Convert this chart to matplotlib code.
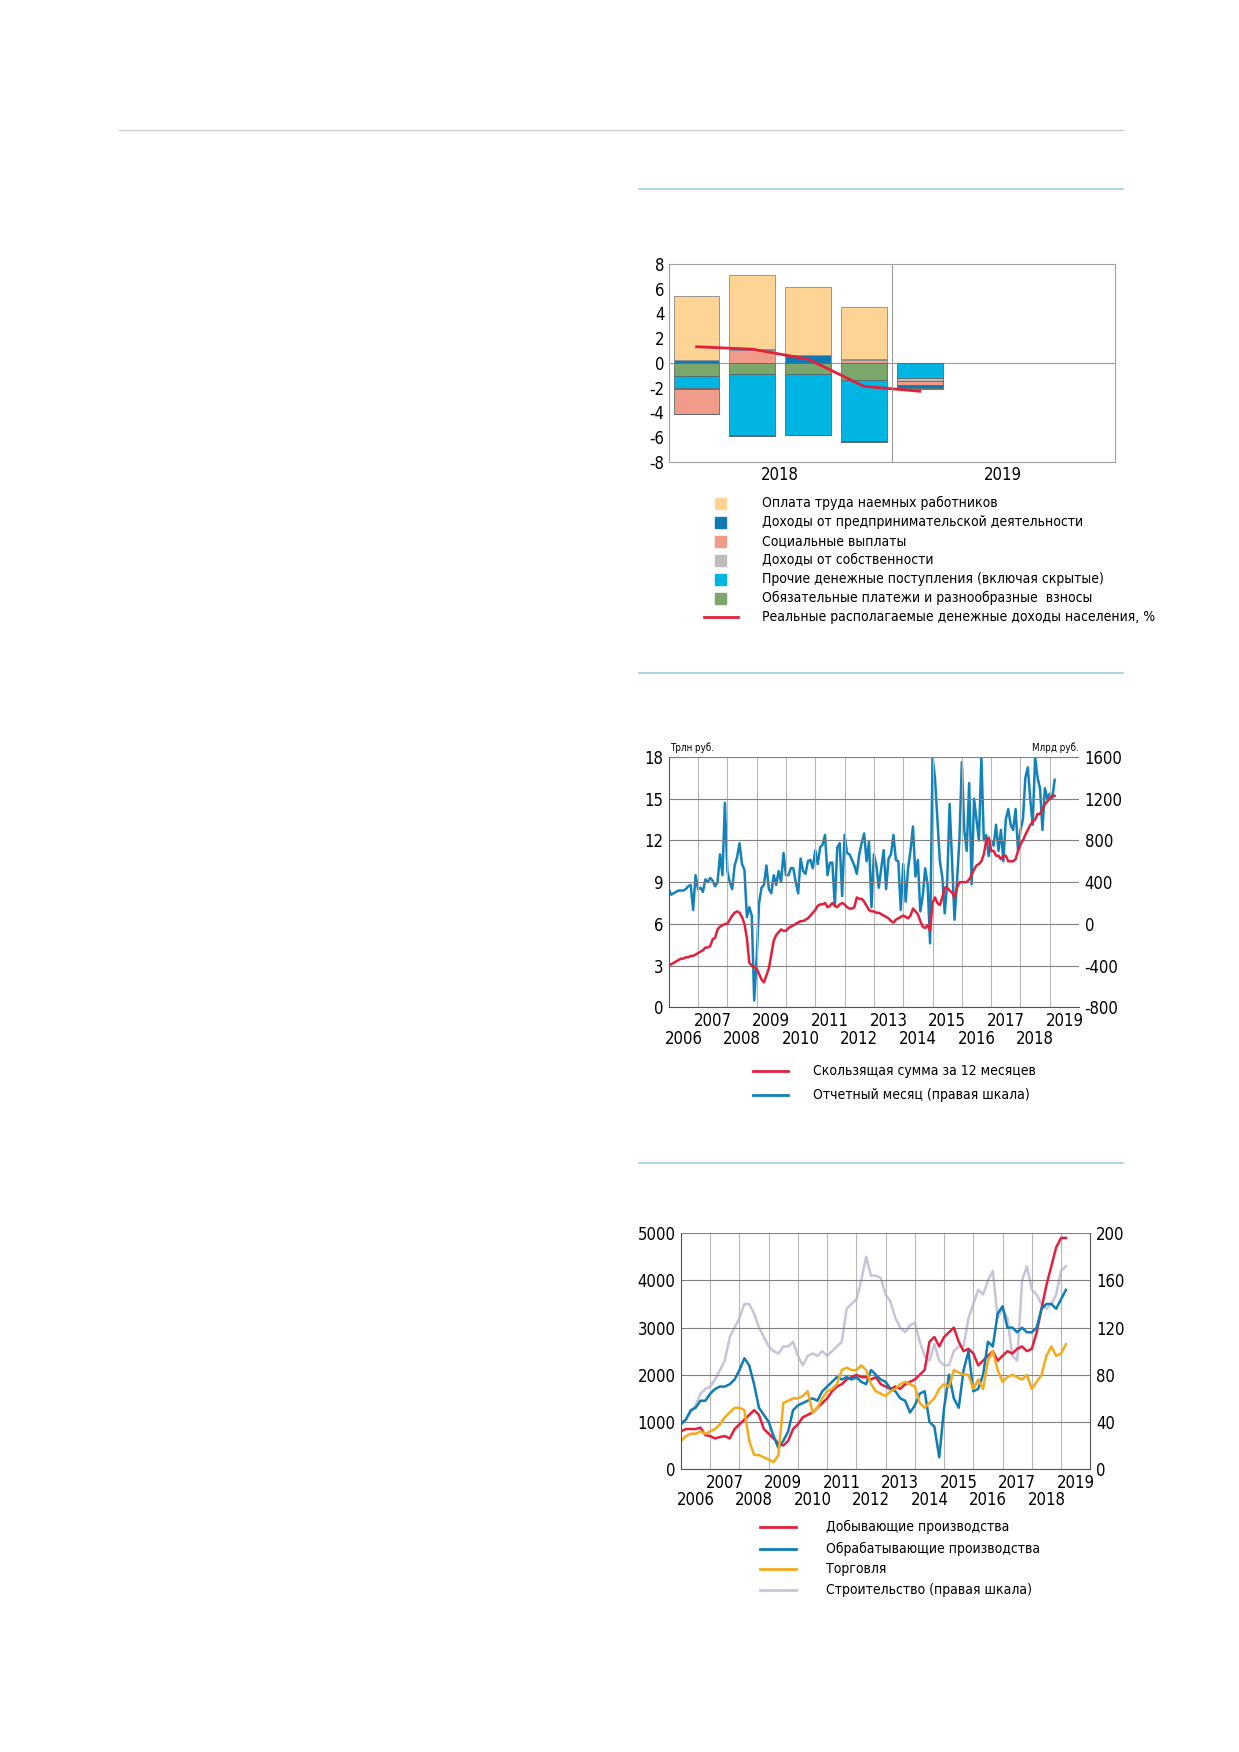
import numpy as np
import matplotlib.pyplot as plt
from matplotlib.lines import Line2D

plt.rcParams['font.family'] = ['DejaVu Sans']
plt.rcParams['font.stretch'] = 'condensed'
plt.rcParams['axes.unicode_minus'] = False

# ---------- data: chart 1 (quarterly contributions) ----------
quarters = [0, 1, 2, 3, 4]
income_line = [1.3, 1.1, 0.3, -1.9, -2.3]
comp_names = ['Оплата труда наемных работников',
              'Доходы от предпринимательской деятельности',
              'Социальные выплаты',
              'Доходы от собственности',
              'Прочие денежные поступления (включая скрытые)',
              'Обязательные платежи и разнообразные  взносы']
comp_colors = ['#FDD493', '#0F79B4', '#F19C8A', '#BDBDBD', '#00B5E2', '#7BA86A']
wages = [5.2, 6.0, 5.45, 4.2, -0.1]
business = [0.2, 0.1, 0.65, -0.1, -0.2]
social = [-2.0, 1.0, 0.0, 0.2, -0.3]
property_inc = [-0.1, -0.1, 0.0, 0.1, -0.3]
other = [-0.9, -4.9, -4.9, -4.9, -1.2]
mandatory = [-1.1, -0.9, -0.9, -1.4, 0.0]

# ---------- data: chart 2 (monthly, from Jan 2006) ----------
rolling_sum = [
    3.0, 3.1, 3.2, 3.3, 3.4, 3.5, 3.5, 3.6, 3.6, 3.7, 3.7, 3.8,
    3.9, 4.0, 4.1, 4.3, 4.3, 4.4, 4.9, 5.0, 5.6, 5.8, 5.9, 6.0,
    6.0, 6.3, 6.6, 6.8, 6.9, 6.8, 6.5, 6.0, 5.0, 3.2, 3.0, 2.9,
    2.8, 2.4, 2.0, 1.8, 2.3, 2.8, 3.8, 4.8, 5.2, 5.4, 5.6, 5.5,
    5.5, 5.7, 5.8, 5.9, 6.0, 6.1, 6.2, 6.2, 6.3, 6.4, 6.6, 6.8,
    7.0, 7.3, 7.4, 7.4, 7.5, 7.2, 7.3, 7.5, 7.3, 7.2, 7.4, 7.5,
    7.4, 7.2, 7.1, 7.1, 7.2, 7.9, 7.8, 7.8, 7.6, 7.3, 7.0, 6.9,
    6.9, 6.8, 6.8, 6.7, 6.6, 6.5, 6.4, 6.2, 6.1, 6.3, 6.4, 6.5,
    6.6, 6.5, 6.4, 6.6, 7.1, 6.9, 6.7, 6.2, 5.8, 5.7, 5.9, 5.5,
    7.5, 7.9, 7.5, 7.35, 7.9, 8.6, 8.6, 8.4, 8.25, 7.9, 8.6, 9.0,
    9.0, 9.0, 9.0, 9.2, 9.5, 9.9, 10.2, 10.3, 10.5, 11.0, 12.0, 12.2,
    11.25, 11.25, 10.9, 10.9, 10.65, 10.9, 10.9, 10.5, 10.5, 10.5, 10.65, 11.25,
    11.7, 12.0, 12.4, 12.75, 13.1, 13.35, 13.5, 13.9, 13.9, 14.25, 14.6, 14.8,
    15.0, 15.2, 15.2]
monthly_left = [
    8.5, 8.1, 8.2, 8.3, 8.4, 8.4, 8.4, 8.5, 8.7, 8.8, 7.0, 9.5,
    8.5, 8.6, 8.3, 9.2, 9.0, 9.3, 9.1, 8.7, 9.0, 11.0, 9.5, 14.7,
    9.8, 9.0, 8.5, 10.2, 10.8, 11.8, 10.3, 9.9, 6.5, 7.2, 6.6, 0.5,
    3.5, 7.5, 8.6, 8.8, 10.2, 8.5, 8.2, 9.5, 8.8, 9.8, 9.0, 11.1,
    9.5, 9.5, 10.0, 10.0, 9.0, 8.2, 10.7, 9.8, 9.6, 10.5, 10.6, 10.0,
    11.3, 10.3, 11.5, 11.7, 12.4, 9.5, 10.4, 10.4, 7.3, 11.5, 11.8, 8.0,
    12.4, 11.1, 11.0, 10.6, 10.2, 9.6, 11.0, 11.8, 12.5, 10.5, 11.9, 7.2,
    11.0, 10.2, 8.6, 10.0, 11.3, 8.5, 10.7, 11.0, 12.4, 10.6, 10.5, 7.0,
    10.3, 7.6, 10.0, 11.3, 13.0, 9.4, 10.6, 6.9, 8.0, 10.0, 8.8, 4.6]
monthly_right_late = [
    1600, 1400, 1000, 600, 450, 100, 400, 1150, 600, 40, 400, 800,
    1550, 900, 700, 1350, 380, 1200, 1000, 800, 1600, 800, 850, 650,
    800, 750, 950, 700, 900, 600, 1000, 1100, 950, 900, 1100, 700,
    900, 1000, 1400, 1500, 1200, 950, 1600, 1400, 1300, 900, 1300, 1200,
    1250, 1200, 1380]

# ---------- data: chart 3 (every two months, from Jan 2006) ----------
mining = [800, 850, 850, 850, 880, 720, 700, 650, 680, 700, 650, 850,
          950, 1050, 1150, 1250, 1150, 850, 750, 650, 550, 500, 600, 850,
          950, 1100, 1150, 1200, 1300, 1400, 1500, 1650, 1750, 1800, 1900, 1950,
          2000, 1950, 1950, 1900, 1950, 1800, 1750, 1700, 1750, 1700, 1800, 1850,
          1900, 2000, 2100, 2700, 2800, 2600, 2800, 2900, 3000, 2700, 2500, 2550,
          2450, 2200, 2300, 2400, 2500, 2300, 2400, 2500, 2450, 2550, 2600, 2500,
          2550, 2900, 3400, 3900, 4300, 4700, 4900, 4900]
manufacturing = [950, 1050, 1250, 1300, 1450, 1450, 1600, 1700, 1750, 1750, 1800, 1900,
                 2100, 2350, 2200, 1800, 1300, 1150, 1000, 700, 450, 600, 800, 1250,
                 1350, 1400, 1450, 1500, 1450, 1650, 1750, 1850, 1950, 1900, 1950, 1900,
                 1950, 1850, 1800, 2100, 2000, 1900, 1850, 1700, 1650, 1500, 1450, 1200,
                 1350, 1600, 1650, 1000, 900, 250, 1300, 2000, 1500, 1300, 2100, 2500,
                 1650, 1700, 2000, 2700, 2600, 3300, 3450, 3000, 3000, 2900, 3000, 2900,
                 2900, 3000, 3400, 3500, 3500, 3400, 3600, 3800]
trade = [600, 700, 750, 750, 800, 750, 800, 850, 950, 1100, 1200, 1300,
         1300, 1250, 600, 300, 300, 250, 200, 150, 300, 1400, 1450, 1500,
         1500, 1550, 1650, 1200, 1300, 1500, 1650, 1700, 1800, 2100, 2150, 2100,
         2100, 2200, 2100, 1800, 1650, 1600, 1550, 1650, 1700, 1800, 1850, 1800,
         1750, 1400, 1300, 1400, 1500, 1700, 1800, 1750, 2100, 2050, 2000, 2000,
         1700, 1900, 1700, 2300, 2500, 2100, 1850, 1950, 2000, 1950, 1900, 2000,
         1700, 1850, 2000, 2400, 2600, 2400, 2450, 2650]
construction = [40, 42, 48, 54, 64, 68, 70, 76, 84, 92, 112, 120,
                128, 140, 140, 132, 120, 112, 104, 100, 98, 104, 104, 108,
                96, 88, 96, 98, 96, 100, 96, 100, 104, 108, 136, 140,
                144, 160, 180, 164, 164, 162, 148, 142, 128, 120, 116, 122,
                124, 108, 96, 92, 106, 92, 88, 88, 100, 104, 104, 128,
                140, 152, 148, 160, 168, 128, 136, 128, 96, 92, 160, 172,
                152, 148, 140, 136, 140, 148, 168, 172]

W, H = 1108.0, 1567.0


def box(x0, y0, x1, y1):
    return [x0 / W, 1 - y1 / H, (x1 - x0) / W, (y1 - y0) / H]


def fx(x):
    return x / W


def fy(y):
    return 1 - y / H


fig = plt.figure(figsize=(12.39, 17.52), dpi=100)

# page rules
fig.add_artist(Line2D([fx(106), fx(1004)], [fy(116), fy(116)], color='#cfcfcf', lw=1))
for yy in [169, 602, 1040]:
    fig.add_artist(Line2D([fx(571), fx(1004)], [fy(yy), fy(yy)], color='#9fcfe0', lw=1.2))

TICK = 12
LEG = 10

# ---------- chart 1 ----------
ax1 = fig.add_axes(box(598, 236, 997, 413))
series = [wages, business, social, property_inc, other, mandatory]
pos_order = [2, 1, 3, 0]
neg_order = [5, 4, 3, 2, 1, 0]
pos_base = np.zeros(len(quarters))
neg_base = np.zeros(len(quarters))
for i in pos_order:
    v = np.array(series[i], dtype=float)
    p = np.where(v > 0, v, 0)
    ax1.bar(quarters, p, 0.82, bottom=pos_base, color=comp_colors[i],
            edgecolor='#8a8a8a', linewidth=0.6)
    pos_base += p
for i in neg_order:
    v = np.array(series[i], dtype=float)
    n = np.where(v < 0, v, 0)
    ax1.bar(quarters, n, 0.82, bottom=neg_base, color=comp_colors[i],
            edgecolor='#5a6a6a', linewidth=0.6)
    neg_base += n
ax1.plot(quarters, income_line, color='#E3203B', lw=2)
ax1.axhline(0, color='#999999', lw=0.8, zorder=0)
ax1.axvline(3.5, color='#999999', lw=0.8)
ax1.set_xlim(-0.5, 7.5)
ax1.set_ylim(-8, 8)
ax1.set_yticks(range(-8, 9, 2))
ax1.set_xticks([1.5, 5.5])
ax1.set_xticklabels(['2018', '2019'])
ax1.tick_params(length=0, labelsize=TICK, pad=3)
for s in ax1.spines.values():
    s.set_color('#a0a0a0')
    s.set_linewidth(0.8)

leg_rows = [450, 467, 484, 501, 518, 535]
for name, col, yy in zip(comp_names, comp_colors, leg_rows):
    fig.patches.append(plt.Rectangle((fx(639), fy(yy + 5)), 10 / W, 10 / H,
                                     transform=fig.transFigure, color=col, figure=fig))
    fig.text(fx(681), fy(yy), name, fontsize=LEG, va='center')
fig.add_artist(Line2D([fx(630), fx(660)], [fy(552), fy(552)], color='#E3203B', lw=2))
fig.text(fx(681), fy(552), 'Реальные располагаемые денежные доходы населения, %',
         fontsize=LEG, va='center')

# ---------- chart 2 ----------
ax2 = fig.add_axes(box(598, 677, 965, 901))
t_red = 2006 + np.arange(len(rolling_sum)) / 12
blue_vals = [133.33 * v - 800 for v in monthly_left] + monthly_right_late
t_blue = 2006 + np.arange(len(blue_vals)) / 12
ax2.set_xlim(2006, 2020)
ax2.set_ylim(0, 18)
ax2.set_yticks(range(0, 19, 3))
ax2.set_xticks(range(2007, 2020))
ax2.set_xticklabels([])
ax2.grid(axis='x', color='#b8b8b8', lw=0.8)
ax2.grid(axis='y', color='#808080', lw=0.8)
ax2.set_axisbelow(True)
ax2r = ax2.twinx()
ax2r.set_ylim(-800, 1600)
ax2r.set_yticks(range(-800, 1601, 400))
ax2r.plot(t_blue, blue_vals, color='#1382B8', lw=1.8, zorder=2)
ax2.plot(t_red, rolling_sum, color='#E3203B', lw=1.8, zorder=3)
ax2.set_zorder(ax2r.get_zorder() + 1)
ax2.patch.set_visible(False)
for a in (ax2, ax2r):
    a.tick_params(length=0, labelsize=TICK, pad=4)
    for s in a.spines.values():
        s.set_visible(False)
ax2.spines['bottom'].set_visible(True)
ax2.spines['left'].set_visible(True)
ax2.spines['bottom'].set_color('#555555')
ax2.spines['left'].set_color('#555555')
for y in range(2006, 2020):
    yy = -0.055 if y % 2 == 1 else -0.125
    ax2.text(y + 0.5, yy, str(y), transform=ax2.get_xaxis_transform(),
             ha='center', va='center', fontsize=TICK)
fig.text(fx(599), fy(669), 'Трлн руб.', fontsize=7, va='center')
fig.text(fx(965), fy(669), 'Млрд руб.', fontsize=7, va='center', ha='right')
fig.add_artist(Line2D([fx(673), fx(705)], [fy(958), fy(958)], color='#E3203B', lw=2))
fig.text(fx(727), fy(958), 'Скользящая сумма за 12 месяцев', fontsize=LEG, va='center')
fig.add_artist(Line2D([fx(673), fx(705)], [fy(979), fy(979)], color='#1382B8', lw=2))
fig.text(fx(727), fy(979), 'Отчетный месяц (правая шкала)', fontsize=LEG, va='center')

# ---------- chart 3 ----------
ax3 = fig.add_axes(box(609, 1103, 975, 1314))
t3 = 2006 + np.arange(len(mining)) / 6
ax3.set_xlim(2006, 2020)
ax3.set_ylim(0, 5000)
ax3.set_yticks(range(0, 5001, 1000))
ax3.set_xticks(range(2007, 2020))
ax3.set_xticklabels([])
ax3.grid(axis='x', color='#b8b8b8', lw=0.8)
ax3.grid(axis='y', color='#808080', lw=0.8)
ax3.set_axisbelow(True)
ax3r = ax3.twinx()
ax3r.set_ylim(0, 200)
ax3r.set_yticks(range(0, 201, 40))
ax3r.plot(t3, construction, color='#C9C3DA', lw=1.8)
ax3.plot(t3, mining, color='#E3203B', lw=1.8)
ax3.plot(t3, manufacturing, color='#0F7DB4', lw=1.8)
ax3.plot(t3, trade, color='#F5AA1C', lw=1.8)
ax3.set_zorder(ax3r.get_zorder() + 1)
ax3.patch.set_visible(False)
for a in (ax3, ax3r):
    a.tick_params(length=0, labelsize=TICK, pad=4)
    for s in a.spines.values():
        s.set_visible(False)
ax3.spines['bottom'].set_visible(True)
ax3.spines['bottom'].set_color('#555555')
ax3.spines['right'].set_visible(True)
ax3.spines['right'].set_color('#555555')
ax3.spines['left'].set_visible(True)
ax3.spines['left'].set_color('#555555')
for y in range(2006, 2020):
    yy = -0.058 if y % 2 == 1 else -0.13
    ax3.text(y + 0.5, yy, str(y), transform=ax3.get_xaxis_transform(),
             ha='center', va='center', fontsize=TICK)
leg3 = [('Добывающие производства', '#E3203B', 1366),
        ('Обрабатывающие производства', '#0F7DB4', 1385),
        ('Торговля', '#F5AA1C', 1403),
        ('Строительство (правая шкала)', '#C9C3DA', 1422)]
for name, col, yy in leg3:
    fig.add_artist(Line2D([fx(680), fx(712)], [fy(yy), fy(yy)], color=col, lw=2))
    fig.text(fx(739), fy(yy), name, fontsize=LEG, va='center')

fig.savefig('out.png', dpi=100)
